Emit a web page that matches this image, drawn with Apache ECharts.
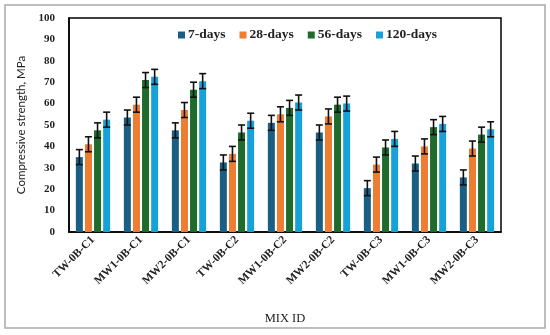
<!DOCTYPE html>
<html><head><meta charset="utf-8">
<script src="https://cdn.jsdelivr.net/npm/echarts@6/dist/echarts.min.js"></script>
<style>html,body{margin:0;padding:0;background:#fff}#c{width:550px;height:335px}</style>
</head><body><div id="c"></div>
<script>
const categories = ['TW-0B-C1','MW1-0B-C1','MW2-0B-C1','TW-0B-C2','MW1-0B-C2','MW2-0B-C2','TW-0B-C3','MW1-0B-C3','MW2-0B-C3'];
const seriesNames = ['7-days','28-days','56-days','120-days'];
const d7   = [35, 53.5, 47.5, 32.5, 51, 46.5, 20.5, 32, 25.5];
const d28  = [41, 59.5, 57, 36.5, 55, 54, 31.5, 40, 39];
const d56  = [47.5, 71, 66.5, 46.5, 58, 59.5, 39.5, 49, 45.5];
const d120 = [52.5, 72.5, 70.5, 52, 60.5, 60, 43.5, 50.5, 48];
const e7   = [3.5, 3.5, 3.5, 3.5, 3.5, 3.5, 3.5, 3.5, 3.5];
const e28  = [3.5, 3.5, 3.5, 3.5, 3.5, 3.5, 3.5, 3.5, 3.5];
const e56  = [3.5, 3.5, 3.5, 3.5, 3.5, 3.5, 3.5, 3.5, 3.5];
const e120 = [3.5, 3.5, 3.5, 3.5, 3.5, 3.5, 3.5, 3.5, 3.5];
const yTicks = [0,10,20,30,40,50,60,70,80,90,100];

const colors = ['#1B5E85','#ED7D31','#1E6B2B','#18A0DB'];
const values = [d7,d28,d56,d120];
const errs = [e7,e28,e56,e120];
const BW = 7, GAP = 2.1;
const serif = '"Liberation Serif", "DejaVu Serif", serif';

const series = [];
values.forEach((v,i)=>{
  series.push({name: seriesNames[i], type:'bar', data:v, barWidth:BW, barGap:'30%', barCategoryGap:'25%',
    itemStyle:{color:colors[i]}, z:2});
});
values.forEach((v,i)=>{
  const off = -(4*BW+3*GAP)/2 + BW/2 + i*(BW+GAP);
  series.push({name:'err'+i, type:'custom', z:5,
    data: v.map((val,k)=>[k,val,errs[i][k]]),
    encode:{x:0,y:1},
    renderItem:(params,api)=>{
      const k = api.value(0), val = api.value(1), e = api.value(2);
      const top = api.coord([k, val+e]);
      const bot = api.coord([k, val-e]);
      const x = top[0]+off;
      const st = {stroke:'#111', lineWidth:1.6};
      return {type:'group', children:[
        {type:'line', shape:{x1:x,y1:top[1],x2:x,y2:bot[1]}, style:st},
        {type:'line', shape:{x1:x-3.5,y1:top[1],x2:x+3.5,y2:top[1]}, style:st},
        {type:'line', shape:{x1:x-3.5,y1:bot[1],x2:x+3.5,y2:bot[1]}, style:st}
      ]};
    }
  });
});

const chart = echarts.init(document.getElementById('c'));
chart.setOption({
  animation:false,
  backgroundColor:'#fff',
  graphic:[{type:'rect', shape:{x:5,y:5,width:540,height:323}, style:{fill:'none', stroke:'#a8a8a8', lineWidth:1.5}, silent:true}],
  grid:{left:69, right:49, top:18, bottom:103, show:true, borderColor:'#000', borderWidth:1.5, backgroundColor:'transparent'},
  legend:{data:seriesNames, top:23, left:173, itemWidth:7, itemHeight:7, itemGap:14, icon:'rect',
    textStyle:{fontFamily:serif, fontWeight:'bold', fontSize:13.5, color:'#222', padding:[0,0,0,-2]}},
  xAxis:{type:'category', data:categories, name:'MIX ID', nameLocation:'middle', nameGap:80,
    nameTextStyle:{fontFamily:serif, fontSize:12.5, color:'#222'},
    axisLine:{lineStyle:{color:'#000', width:1.5}}, axisTick:{show:false},
    axisLabel:{rotate:45, interval:0, fontFamily:serif, fontWeight:'bold', fontSize:11.5, color:'#222', margin:6}},
  yAxis:{type:'value', min:0, max:100, interval:10, name:'Compressive strength, MPa', nameLocation:'middle', nameGap:37,
    nameTextStyle:{fontFamily:'Lato, "Open Sans", sans-serif', fontSize:11.5, color:'#222'},
    axisLine:{show:true, lineStyle:{color:'#000', width:1.5}}, axisTick:{show:false}, splitLine:{show:false},
    axisLabel:{fontFamily:serif, fontWeight:'bold', fontSize:11, color:'#222', margin:14,
      formatter:(v)=> yTicks.includes(v)? String(v):''}},
  series
});
</script></body></html>
